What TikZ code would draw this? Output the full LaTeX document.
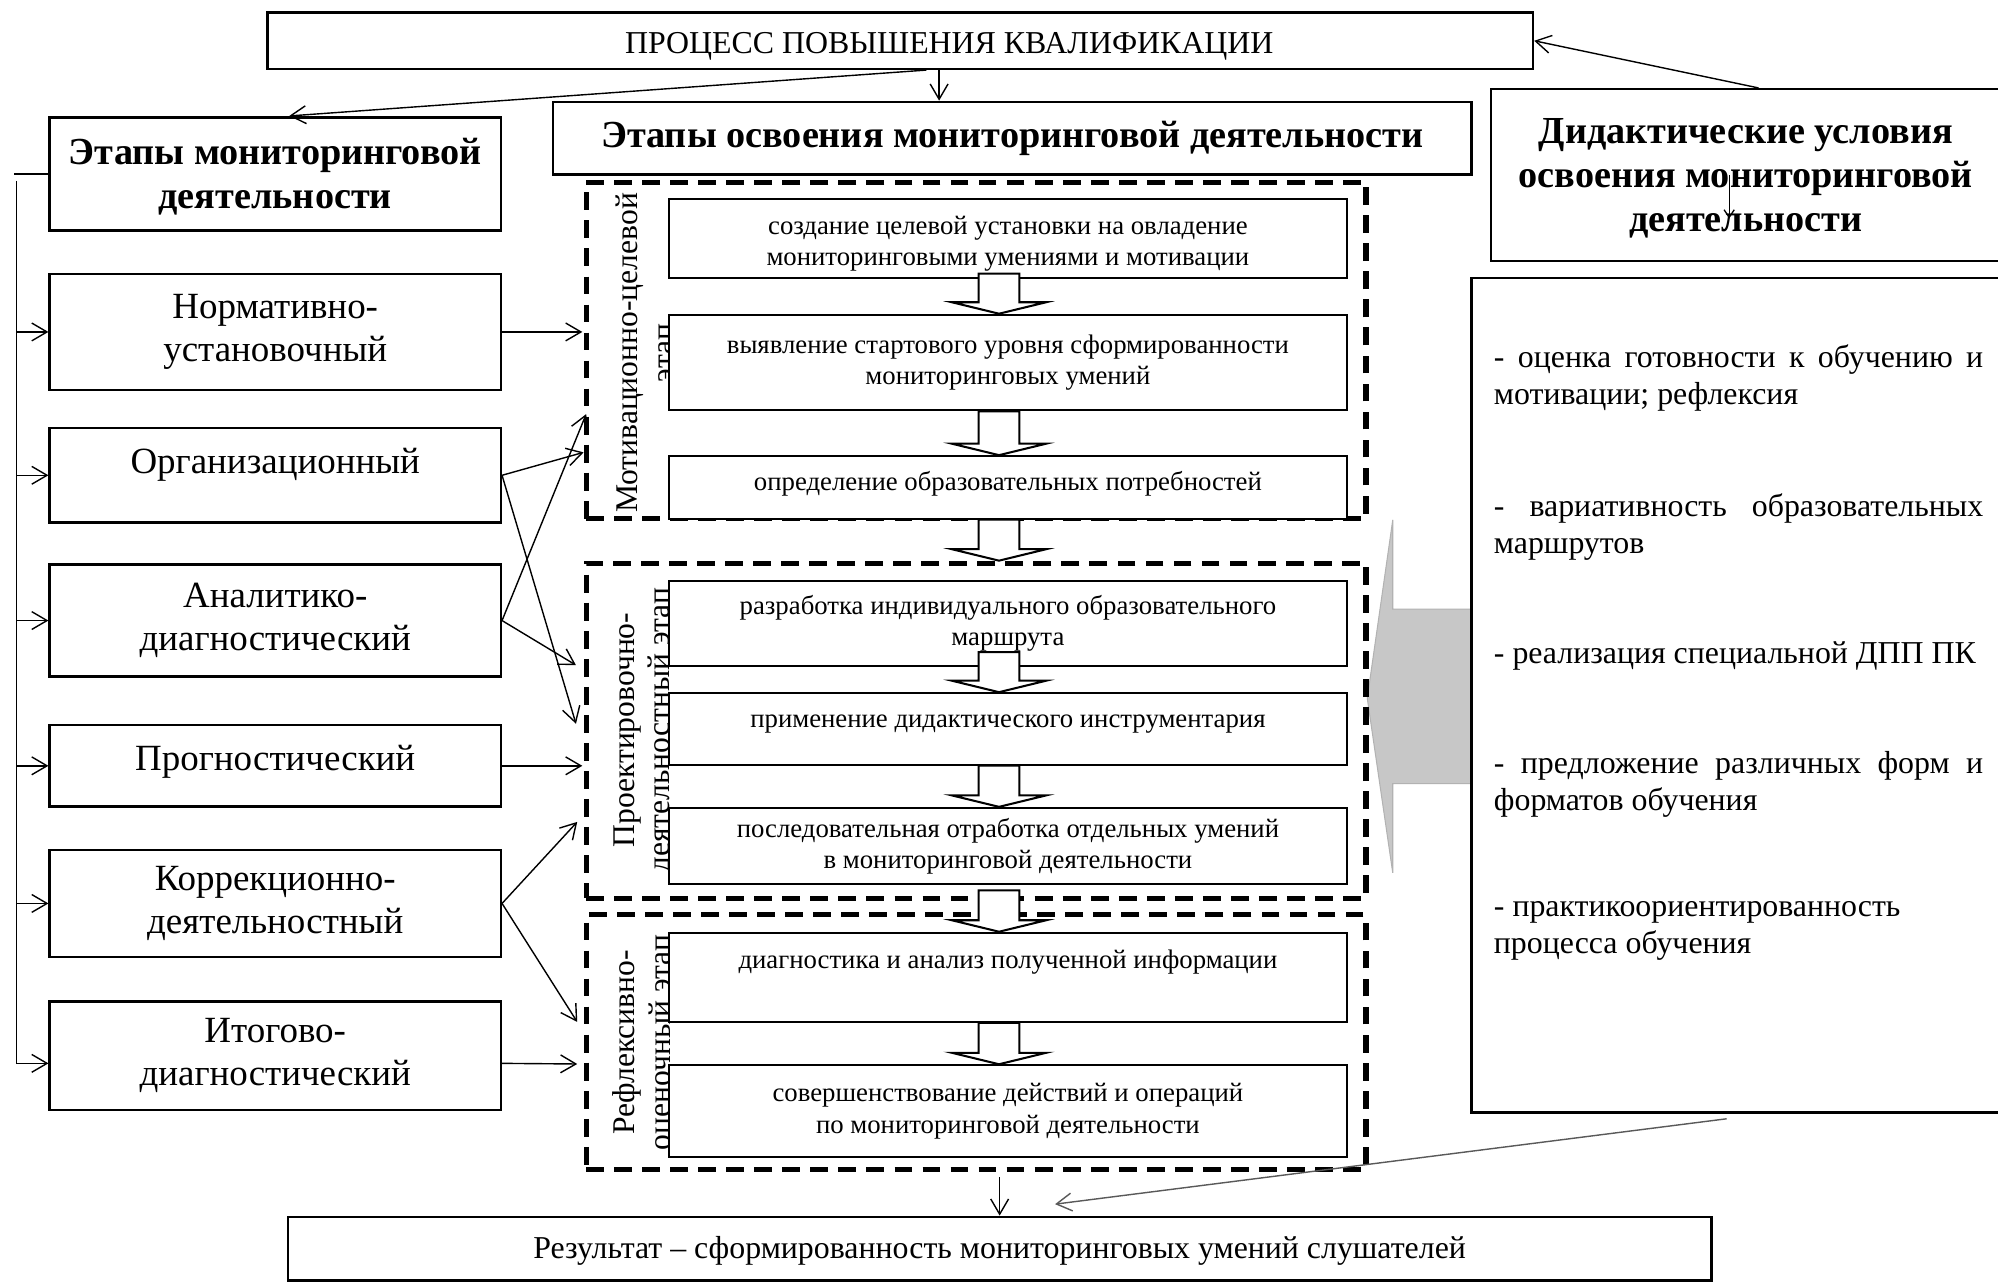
\documentclass[tikz,border=0pt]{standalone}
\usepackage{fontspec}
\setmainfont{Liberation Serif}
\usetikzlibrary{arrows.meta,calc}
\tikzset{
  bx/.style={draw, line width=1pt, fill=white, inner sep=0pt, align=center},
  ibx/.style={draw, line width=0.8pt, fill=white, inner sep=0pt, align=center, minimum width=266pt, font=\fontsize{10.5}{12.2}\selectfont},
  lbx/.style={bx, minimum width=177pt, font=\fontsize{14.5}{17}\selectfont},
  hdr/.style={font=\fontsize{15}{17.2}\selectfont\bfseries},
  grp/.style={draw, line width=2pt, dash pattern=on 7pt off 4pt, inner sep=0pt, minimum width=306pt},
  rot/.style={rotate=90, align=center, inner sep=0pt, font=\fontsize{12.4}{14}\selectfont},
  lst/.style={anchor=west, align=left, inner sep=0pt, font=\fontsize{12.5}{14.5}\selectfont},
  ar/.style={line width=0.55pt, -{Straight Barb[length=6pt,width=7pt]}},
  blk/.style={draw, line width=0.8pt, fill=white},
}
\newcommand\dn[2]{\raisebox{-#1}[\height][\depth]{\begin{tabular}{@{}c@{}}#2\end{tabular}}}
\newcommand\blockarr[3]{%
  \path[blk] let \p1=(#1), \p2=(#2) in
    ({384pt},{\y1+#3}) -- ({384pt},{\y2+4.5pt}) -- ({373.5pt},{\y2+4.5pt}) --
    ({392pt},{\y2}) -- ({410.5pt},{\y2+4.5pt}) -- ({400pt},{\y2+4.5pt}) --
    ({400pt},{\y1+#3}) -- cycle;}
\begin{document}
\begin{tikzpicture}[x=0.5pt,y=-0.5pt]
\fill[white] (0,0) rectangle (1568,1006);
\useasboundingbox (0,0) rectangle (1568,1006);

% top boxes
\node[bx, minimum width=496.5pt, minimum height=22pt, font=\fontsize{12.5}{15}\selectfont] (top) at (706.5,32) {\hspace*{38.5pt}\dn{2pt}{ПРОЦЕСС ПОВЫШЕНИЯ КВАЛИФИКАЦИИ}};
\node[bx, hdr, minimum width=360.5pt, minimum height=28.5pt] (osv) at (794.5,108.5) {Этапы освоения мониторинговой деятельности};
\node[bx, hdr, minimum width=177pt, minimum height=44.5pt] (m0) at (216,136.5) {\dn{1.5pt}{Этапы мониторинговой\\деятельности}};
\node[bx, hdr, minimum width=200pt, minimum height=67.5pt] (did) at (1370,137.5) {\dn{1.5pt}{Дидактические условия\\освоения мониторинговой\\деятельности}};

% gray arrow
\path[fill=black!22, draw=black!30, line width=0.4pt] (1155,478) -- (1093,478) -- (1093,408) -- (1073,548) -- (1093,685) -- (1093,615) -- (1155,615);

% list box
\node[bx, minimum width=207.5pt, minimum height=327.5pt] (lst) at (1362.5,545.5) {};
\node[lst] (c1) at (1172,297) {\makebox[192pt][s]{- оценка готовности к обучению и}\\мотивации; рефлексия};
\node[lst] (c2) at (1172,413.5) {\makebox[192pt][s]{- вариативность образовательных}\\маршрутов};
\node[lst] (c3) at (1172,515) {- реализация специальной ДПП ПК};
\node[lst] (c4) at (1172,615.5) {\makebox[192pt][s]{- предложение различных форм и}\\форматов обучения};
\node[lst] (c5) at (1172,730.5) {- практикоориентированность\\процесса обучения};

% left column
\node[lbx, minimum height=45.5pt] (norm) at (216,260.5) {Нормативно-\\установочный};
\node[lbx, minimum height=37pt] (org) at (216,373) {\raisebox{11pt}{Организационный}};
\node[lbx, minimum height=44pt] (anal) at (216,487) {Аналитико-\\диагностический};
\node[lbx, minimum height=32pt] (prog) at (216,601) {\raisebox{6pt}{Прогностический}};
\node[lbx, minimum height=42pt] (korr) at (216,709) {Коррекционно-\\деятельностный};
\node[lbx, minimum height=42.5pt] (itog) at (216,828.5) {Итогово-\\диагностический};

% dashed groups
\node[grp, minimum height=132pt] (g1) at (766,275) {};
\node[grp, minimum height=131.5pt] (g2) at (766,573.5) {};
\node[grp, minimum height=100pt] (g3) at (766,818) {};
\node[rot] (l1) at (506,277) {Мотивационно-целевой\\этап};
\node[rot] (l2) at (506,573) {Проектировочно-\\деятельностный этап};
\node[rot] (l3) at (506,818) {Рефлексивно-\\оценочный этап};

% inner boxes
\node[ibx, minimum height=31pt] (a) at (791,187) {\dn{2pt}{создание целевой установки на овладение\\мониторинговыми умениями и мотивации}};
\node[ibx, minimum height=37.5pt] (b) at (791,284.5) {выявление стартового уровня сформированности\\мониторинговых умений};
\node[ibx, minimum height=24.5pt] (c) at (791,382.5) {\raisebox{5pt}{определение образовательных потребностей}};
\node[ibx, minimum height=33.5pt] (d) at (791,489.5) {разработка индивидуального образовательного\\маршрута};
\node[ibx, minimum height=28pt] (e) at (791,572) {\raisebox{6pt}{применение дидактического инструментария}};
\node[ibx, minimum height=30pt] (f) at (791,664) {последовательная отработка отдельных умений\\в мониторинговой деятельности};
\node[ibx, minimum height=35pt] (g) at (791,767) {\raisebox{14pt}{диагностика и анализ полученной информации}};
\node[ibx, minimum height=36pt] (h) at (791,872) {совершенствование действий и операций\\по мониторинговой деятельности};

% block arrows
\blockarr{a.south}{b.north}{2pt}
\blockarr{b.south}{c.north}{0pt}
\blockarr{c.south}{g2.north}{0pt}
\blockarr{d.south}{e.north}{6pt}
\blockarr{e.south}{f.north}{0pt}
\blockarr{f.south}{g.north}{-2pt}
\blockarr{g.south}{h.north}{0pt}

% result
\node[bx, minimum width=558.5pt, minimum height=25pt, font=\fontsize{12.5}{15}\selectfont] (res) at (784.5,980) {\dn{1pt}{Результат – сформированность мониторинговых умений слушателей}};

% connectors top
\draw[ar] ($(top.south)+(30.5,0)$) -- ($(osv.north)+(-57.5,0)$);
\draw[ar] ($(top.south)+(20.5,0)$) -- ($(m0.north)+(11,0)$);
\draw[ar] ($(did.north)+(10,0)$) -- (top.east);
\draw[line width=0.5pt, -{Straight Barb[length=3pt,width=4pt]}] ($(did.center)+(-13,0)$) -- ($(did.center)+(-13,34)$);

% left bus
\coordinate (bus) at (13,0);
\draw[line width=0.55pt] (m0.west) -- ++(-27,0);
\draw[line width=0.55pt] (13,142) -- (13,835);
\draw[ar] (norm.west -| bus) -- (norm.west);
\draw[ar] (org.west -| bus) -- (org.west);
\draw[ar] (anal.west -| bus) -- (anal.west);
\draw[ar] (prog.west -| bus) -- (prog.west);
\draw[ar] (korr.west -| bus) -- (korr.west);
\draw[ar] ([yshift=-3pt]itog.west -| bus) -- ([yshift=-3pt]itog.west);

% left to groups
\coordinate (t1) at (457,260.5);
\coordinate (t2) at (458,355);
\coordinate (t3) at (452,568);
\coordinate (t4) at (460,325);
\coordinate (t5) at (452,522);
\coordinate (t6) at (457,601);
\coordinate (t7) at (453,645);
\coordinate (t8) at (453,802);
\coordinate (t9) at (453,835);
\draw[ar] (norm.east) -- (t1);
\draw[ar] (org.east) -- (t2);
\draw[ar] (org.east) -- (t3);
\draw[ar] (anal.east) -- (t4);
\draw[ar] (anal.east) -- (t5);
\draw[ar] (prog.east) -- (t6);
\draw[ar] (korr.east) -- (t7);
\draw[ar] (korr.east) -- (t8);
\draw[ar] ([yshift=-3pt]itog.east) -- (t9);

% to result
\draw[ar] ([yshift=-2pt]res.north |- g3.south) -- (res.north);
\coordinate (t10) at (828,945);
\draw[ar, draw=black!65] ($(lst.south)+(-7.5,4)$) -- (t10);
\end{tikzpicture}
\end{document}
